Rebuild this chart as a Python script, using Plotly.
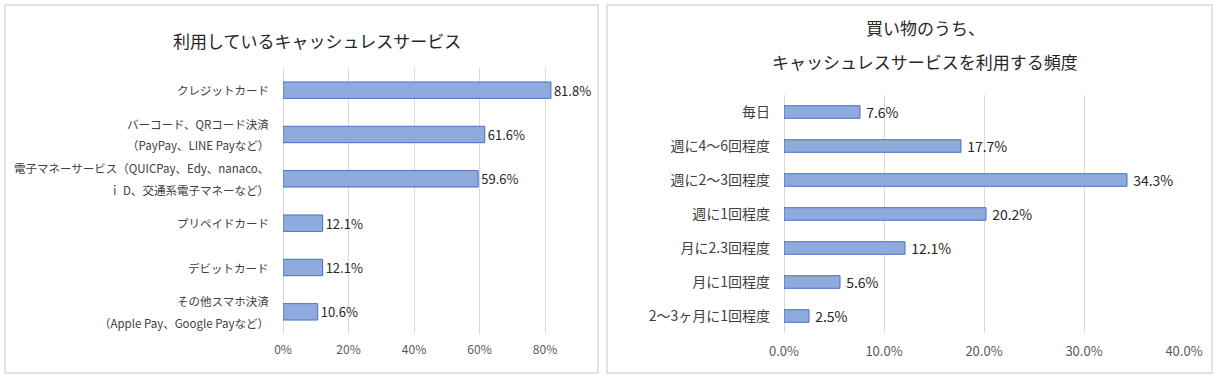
import plotly.graph_objects as go

W, H = 1216, 379

# Left chart data
services = [
    "クレジットカード",
    "バーコード、QRコード決済<br>（PayPay、LINE Payなど）",
    "電子マネーサービス（QUICPay、Edy、nanaco、<br>ｉ D、交通系電子マネーなど）",
    "プリペイドカード",
    "デビットカード",
    "その他スマホ決済<br>（Apple Pay、Google Payなど）",
]
service_share = [0.818, 0.616, 0.596, 0.121, 0.121, 0.106]
left_title = "利用しているキャッシュレスサービス"

# Right chart data
frequency = [
    "毎日",
    "週に4～6回程度",
    "週に2～3回程度",
    "週に1回程度",
    "月に2.3回程度",
    "月に1回程度",
    "2～3ヶ月に1回程度",
]
frequency_share = [0.076, 0.177, 0.343, 0.202, 0.121, 0.056, 0.025]
right_title_1 = "買い物のうち、"
right_title_2 = "キャッシュレスサービスを利用する頻度"

FONT = "Noto Sans CJK JP"
TXT = "#404040"
DARK = "#262626"
TICK = "#595959"
GRID = "#d9d9d9"
FILL = "#8faadc"
EDGE = "#4472c4"

def px(x):
    return x / W

def py(y):
    return 1 - y / H

fig = go.Figure()

fig.add_trace(go.Bar(
    x=service_share, y=services, orientation="h",
    marker=dict(color=FILL, line=dict(color=EDGE, width=1)),
    texttemplate="%{x:.1%}", textposition="outside", cliponaxis=False,
    constraintext="none",
    textfont=dict(family=FONT, size=13, color=DARK),
    xaxis="x", yaxis="y", hoverinfo="skip",
))
fig.add_trace(go.Bar(
    x=frequency_share, y=frequency, orientation="h",
    marker=dict(color=FILL, line=dict(color=EDGE, width=1)),
    texttemplate="\u00a0%{x:.1%}", textposition="outside", cliponaxis=False,
    constraintext="none",
    textfont=dict(family=FONT, size=14, color=DARK),
    xaxis="x2", yaxis="y2", hoverinfo="skip",
))

axis_common = dict(showline=False, gridcolor=GRID, gridwidth=1,
                   zeroline=True, zerolinecolor=GRID, zerolinewidth=1,
                   ticks="outside", tickcolor="rgba(0,0,0,0)",
                   fixedrange=True, automargin=False)

l_scale = 327.5  # px per 100%
fig.update_layout(
    width=W, height=H,
    margin=dict(l=0, r=0, t=0, b=0, autoexpand=False),
    paper_bgcolor="white", plot_bgcolor="white",
    showlegend=False,
    bargap=0.63,
    font=dict(family=FONT, color=TXT),
    xaxis=dict(domain=[px(283), px(283 + 0.9 * l_scale)], range=[0, 0.9],
               dtick=0.2, tick0=0, tickformat=".0%", anchor="y",
               ticklen=5, tickfont=dict(size=12, color=TICK), **axis_common),
    yaxis=dict(domain=[py(334), py(68)], autorange="reversed", anchor="x",
               showgrid=False, zeroline=False, showline=False, ticks="",
               showticklabels=False, fixedrange=True, automargin=False),
    xaxis2=dict(domain=[px(784), px(1184)], range=[0, 0.4],
                dtick=0.1, tick0=0, tickformat=".1%", anchor="y2",
                ticklen=6, tickfont=dict(size=13, color=TICK), **axis_common),
    yaxis2=dict(domain=[py(333), py(95)], autorange="reversed", anchor="x2",
                showgrid=False, zeroline=False, showline=False, ticks="",
                ticklabelstandoff=13, tickfont=dict(size=14, color=TXT),
                fixedrange=True, automargin=False),
)

# left category labels (Excel-like wider line spacing)
for cat in services:
    lines = cat.split("<br>")
    n = len(lines)
    for i, line in enumerate(lines):
        shift = (n - 1) / 2 * 21.5 - i * 21.5
        fig.add_annotation(text=line, xref="x domain", yref="y",
                           x=0, y=cat, xshift=-12, yshift=shift,
                           xanchor="right", yanchor="middle", showarrow=False,
                           font=dict(family=FONT, size=11.5, color=TXT))

# panel borders
for x0, x1 in [(5, 598), (607, 1212)]:
    fig.add_shape(type="rect", xref="paper", yref="paper",
                  x0=px(x0), x1=px(x1), y0=py(373), y1=py(5),
                  line=dict(color=GRID, width=1.5), fillcolor="rgba(0,0,0,0)")

# titles
title_font = dict(family=FONT, size=17, color=DARK)
for text, x, y in [(left_title, 317, 40), (right_title_1, 925, 27),
                   (right_title_2, 925, 62)]:
    fig.add_annotation(text=text, xref="paper", yref="paper",
                       x=px(x), y=py(y), xanchor="center", yanchor="middle",
                       showarrow=False, font=title_font)

fig.write_html(
    "out.html",
    config={"displayModeBar": False},
    post_script="document.body.style.margin='0';document.body.style.padding='0';",
)
